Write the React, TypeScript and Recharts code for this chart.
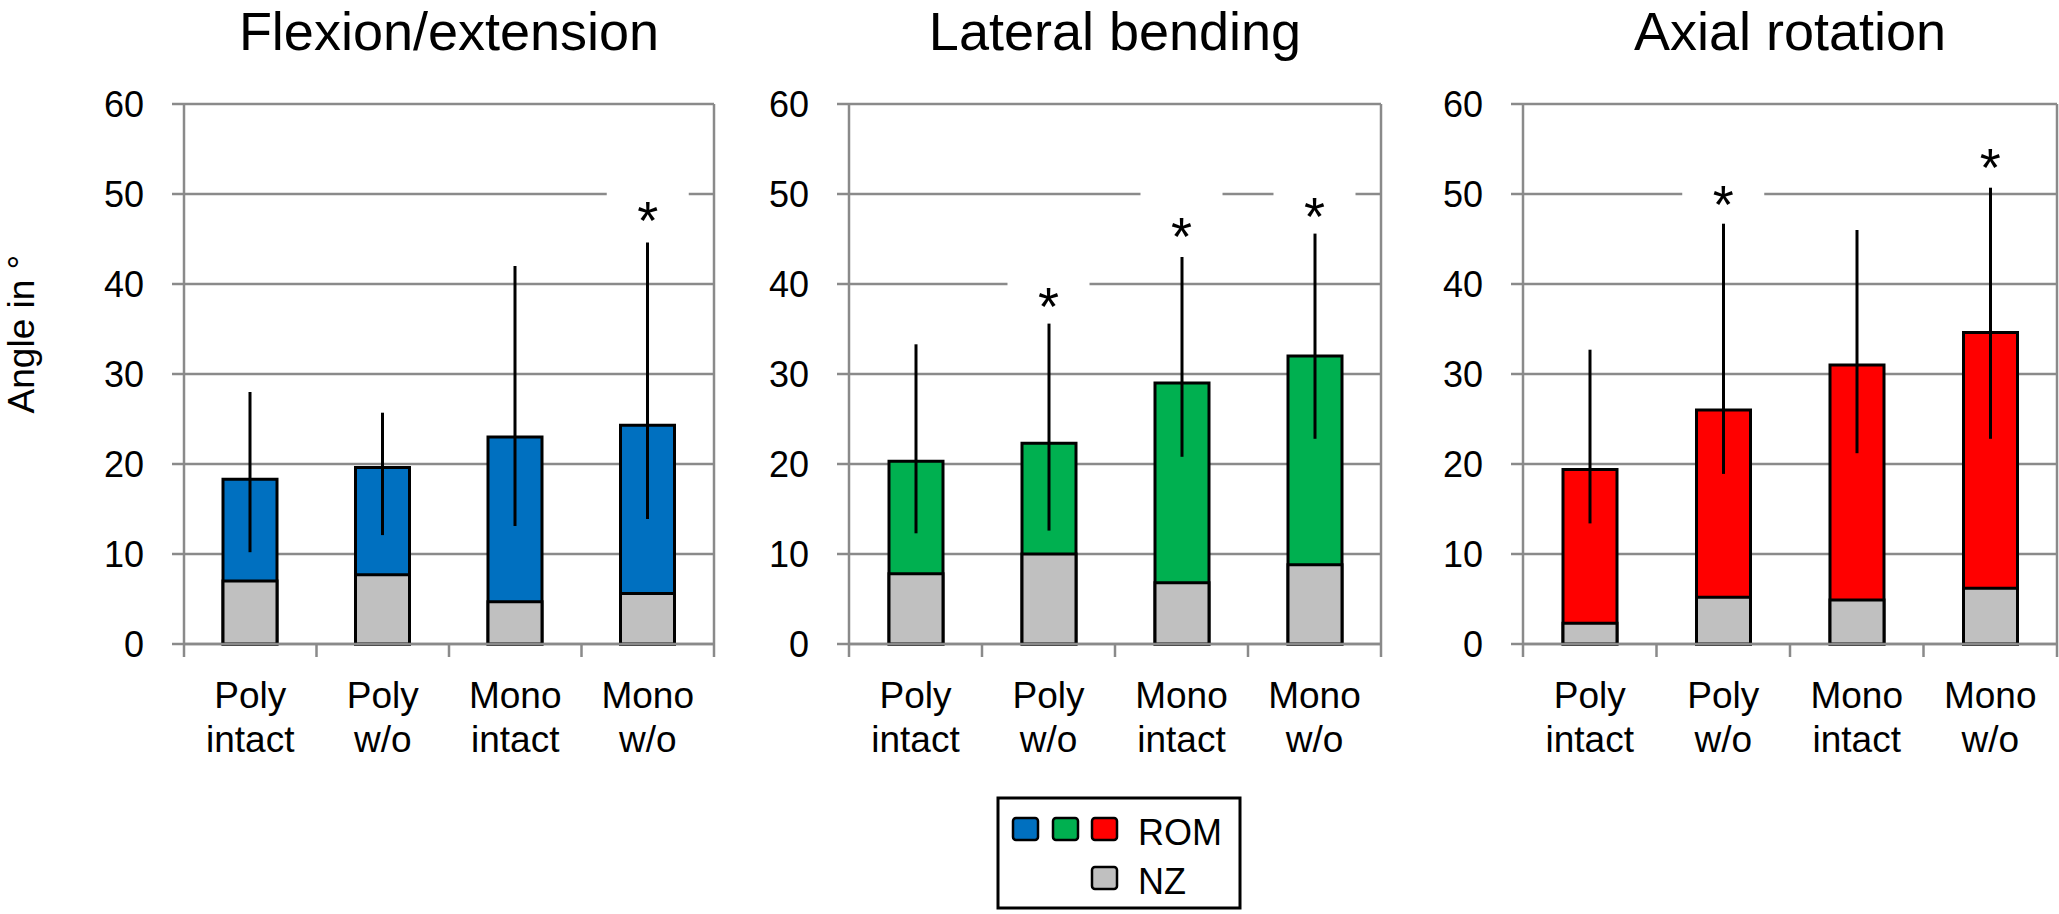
import {
  ComposedChart,
  Bar,
  Line,
  XAxis,
  YAxis,
  CartesianGrid,
  ErrorBar,
  ReferenceLine,
} from 'recharts';

// categories (two text lines each) and their centres on the numeric x axis
const categories = [
  ['Poly', 'intact'],
  ['Poly', 'w/o'],
  ['Mono', 'intact'],
  ['Mono', 'w/o'],
];
const xPos = [0.5, 1.5, 2.5, 3.5];
const yTicks = [0, 10, 20, 30, 40, 50, 60];
const boundaryTicks = [0, 1, 2, 3, 4];

// Flexion/extension
const flexNZ = [7.0, 7.7, 4.7, 5.6];
const flexROM = [18.3, 19.6, 23.0, 24.3];
const flexErrLow = [10.2, 12.1, 13.1, 13.9];
const flexErrHigh = [28.0, 25.7, 42.0, 44.6];
const flexStar = [null, null, null, 48.5];

// Lateral bending
const latNZ = [7.8, 10.0, 6.8, 8.8];
const latROM = [20.3, 22.3, 29.0, 32.0];
const latErrLow = [12.3, 12.6, 20.8, 22.8];
const latErrHigh = [33.3, 35.6, 43.0, 45.6];
const latStar = [null, 38.9, 46.7, 48.9];

// Axial rotation
const axNZ = [2.3, 5.2, 4.9, 6.2];
const axROM = [19.4, 26.0, 31.0, 34.6];
const axErrLow = [13.4, 18.9, 21.2, 22.8];
const axErrHigh = [32.7, 46.7, 46.0, 50.7];
const axStar = [null, 50.2, null, 54.3];

const FONT = '"Liberation Sans", Arial, sans-serif';
const GRID = '#8a8a8a';
const NZ_COLOR = '#C0C0C0';
const BAR_SIZE = 54;

function build(nz: number[], rom: number[], lo: number[], hi: number[], star: (number | null)[]) {
  return xPos.map((x, i) => ({
    x,
    nz: nz[i],
    rom: rom[i],
    err: [rom[i] - lo[i], hi[i] - rom[i]],
    star: star[i],
  }));
}

const panels = [
  {
    title: 'Flexion/extension',
    color: '#0070C0',
    data: build(flexNZ, flexROM, flexErrLow, flexErrHigh, flexStar),
    left: 0,
    width: 740,
    margin: { top: 104, right: 26, bottom: 120, left: 84 },
  },
  {
    title: 'Lateral bending',
    color: '#00B050',
    data: build(latNZ, latROM, latErrLow, latErrHigh, latStar),
    left: 740,
    width: 660,
    margin: { top: 104, right: 19, bottom: 120, left: 9 },
  },
  {
    title: 'Axial rotation',
    color: '#FF0000',
    data: build(axNZ, axROM, axErrLow, axErrHigh, axStar),
    left: 1400,
    width: 659,
    margin: { top: 104, right: 2, bottom: 120, left: 23 },
  },
];

const CatTick = (props: any) => {
  const { x, y, payload } = props;
  const lines = categories[Math.floor(payload.value)] || [];
  return (
    <text x={x} textAnchor="middle" fontSize={37} fontFamily={FONT} fill="#000">
      <tspan x={x} y={y + 44}>{lines[0]}</tspan>
      <tspan x={x} y={y + 88}>{lines[1]}</tspan>
    </text>
  );
};

const StarDot = (props: any) => {
  const { cx, cy, payload, index } = props;
  if (payload == null || payload.star == null || cy == null || isNaN(cy)) {
    return <g key={`s-${index}`} />;
  }
  return (
    <g key={`s-${index}`}>
      <rect x={cx - 41} y={cy - 36} width={82} height={56} fill="#fff" />
      <text x={cx} y={cy + 31} textAnchor="middle" fontSize={54} fontFamily={FONT} fill="#000">
        *
      </text>
    </g>
  );
};

function Panel({ p }: { p: (typeof panels)[number] }) {
  return (
    <div style={{ position: 'absolute', left: p.left, top: 0 }}>
      <ComposedChart width={p.width} height={914} data={p.data} margin={p.margin} barGap={-BAR_SIZE}>
        <CartesianGrid vertical={false} stroke={GRID} strokeWidth={2.5} />
        {/* boundary ticks right under the plot */}
        <XAxis
          xAxisId="a"
          dataKey="x"
          type="number"
          domain={[0, 4]}
          ticks={boundaryTicks}
          interval={0}
          allowDataOverflow
          height={20}
          tickSize={13}
          tickFormatter={() => ''}
          axisLine={{ stroke: GRID, strokeWidth: 2.5 }}
          tickLine={{ stroke: GRID, strokeWidth: 2.5 }}
        />
        {/* category labels below */}
        <XAxis
          xAxisId="b"
          dataKey="x"
          type="number"
          domain={[0, 4]}
          ticks={xPos}
          interval={0}
          allowDataOverflow
          height={130}
          tickSize={0}
          tickMargin={0}
          axisLine={false}
          tickLine={false}
          tick={<CatTick />}
        />
        <YAxis
          domain={[0, 60]}
          ticks={yTicks}
          interval={0}
          width={100}
          tickSize={12}
          tickMargin={28}
          axisLine={{ stroke: GRID, strokeWidth: 2.5 }}
          tickLine={{ stroke: GRID, strokeWidth: 2.5 }}
          tick={{ fill: '#000', fontSize: 36, fontFamily: FONT }}
        />
        <ReferenceLine xAxisId="a" x={4} stroke={GRID} strokeWidth={2.5} />
        <Bar
          xAxisId="a"
          dataKey="rom"
          barSize={BAR_SIZE}
          fill={p.color}
          stroke="#000"
          strokeWidth={3}
          isAnimationActive={false}
        >
          <ErrorBar dataKey="err" direction="y" width={0} stroke="#000" strokeWidth={3} isAnimationActive={false} />
        </Bar>
        <Bar
          xAxisId="a"
          dataKey="nz"
          barSize={BAR_SIZE}
          fill={NZ_COLOR}
          stroke="#000"
          strokeWidth={3}
          isAnimationActive={false}
        />
        <Line
          xAxisId="b"
          dataKey="star"
          stroke="none"
          dot={StarDot}
          activeDot={false}
          isAnimationActive={false}
        />
      </ComposedChart>
    </div>
  );
}

export default function App() {
  return (
    <div style={{ position: 'absolute', left: 0, top: 0, width: 2059, height: 914, background: '#fff', fontFamily: FONT }}>
      {panels.map((p) => (
        <Panel key={p.title} p={p} />
      ))}
      <svg width={2059} height={914} style={{ position: 'absolute', left: 0, top: 0, pointerEvents: 'none' }}>
        <g fontFamily={FONT} fill="#000">
          <text x={449} y={50} fontSize={54} textAnchor="middle">Flexion/extension</text>
          <text x={1115} y={50} fontSize={54} textAnchor="middle">Lateral bending</text>
          <text x={1790} y={50} fontSize={54} textAnchor="middle">Axial rotation</text>
          <text x={34} y={334} fontSize={37} textAnchor="middle" transform="rotate(-90 34 334)">
            Angle in °
          </text>
        </g>
        <rect x={998} y={798} width={242} height={110} fill="#fff" stroke="#000" strokeWidth={3} />
        <rect x={1013} y={818} width={25} height={22} rx={3} fill={panels[0].color} stroke="#000" strokeWidth={2.5} />
        <rect x={1053} y={818} width={25} height={22} rx={3} fill={panels[1].color} stroke="#000" strokeWidth={2.5} />
        <rect x={1092} y={818} width={25} height={22} rx={3} fill={panels[2].color} stroke="#000" strokeWidth={2.5} />
        <rect x={1092} y={867} width={25} height={22} rx={3} fill={NZ_COLOR} stroke="#000" strokeWidth={2.5} />
        <text x={1138} y={845} fontSize={36} fontFamily={FONT} fill="#000">ROM</text>
        <text x={1138} y={894} fontSize={36} fontFamily={FONT} fill="#000">NZ</text>
      </svg>
    </div>
  );
}
